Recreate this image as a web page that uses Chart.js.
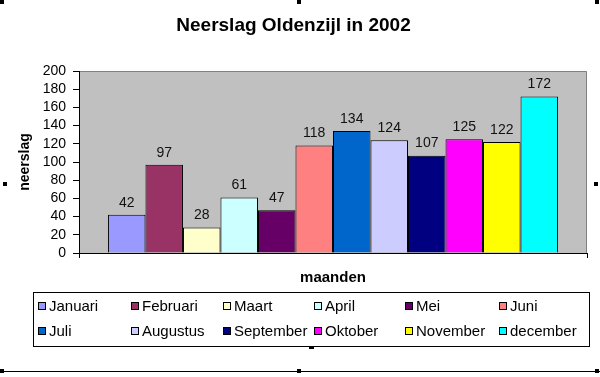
<!DOCTYPE html>
<html>
<head>
<meta charset="utf-8">
<script src="https://cdn.jsdelivr.net/npm/chart.js@4.4.1/dist/chart.umd.min.js"></script>
<style>
  html, body { margin: 0; padding: 0; background: #fff; }
  #wrap { position: relative; width: 600px; height: 377px; }
</style>
</head>
<body>
<div id="wrap"><canvas id="c"></canvas></div>
<script>
const chartTitle = 'Neerslag Oldenzijl in 2002';
const months = ['Januari','Februari','Maart','April','Mei','Juni','Juli','Augustus','September','Oktober','November','december'];
const rainfall = [42, 97, 28, 61, 47, 118, 134, 124, 107, 125, 122, 172];
const monthColors = ['#9999FF','#993366','#FFFFCC','#CCFFFF','#660066','#FF8080','#0066CC','#CCCCFF','#000080','#FF00FF','#FFFF00','#00FFFF'];
const yTicks = [0, 20, 40, 60, 80, 100, 120, 140, 160, 180, 200];
const xTitle = 'maanden';
const yTitle = 'neerslag';

const FONT = 'Arial, "Liberation Sans", sans-serif';

const datasets = months.map((m, i) => ({
  label: m,
  data: [rainfall[i]],
  backgroundColor: monthColors[i],
  borderColor: '#000',
  borderWidth: 1,
  categoryPercentage: 0.886,
  barPercentage: 1.0
}));

const plotBg = {
  id: 'plotBg',
  beforeDraw(chart) {
    const {ctx, chartArea: a} = chart;
    ctx.save();
    ctx.fillStyle = '#C0C0C0';
    ctx.fillRect(a.left, a.top, a.right - a.left, a.bottom - a.top);
    ctx.strokeStyle = '#808080';
    ctx.lineWidth = 1;
    ctx.beginPath();
    ctx.moveTo(a.left, a.top + 0.5);
    ctx.lineTo(a.right - 0.5, a.top + 0.5);
    ctx.lineTo(a.right - 0.5, a.bottom);
    ctx.stroke();
    ctx.restore();
  }
};

const valueLabels = {
  id: 'valueLabels',
  afterDatasetsDraw(chart) {
    const ctx = chart.ctx;
    ctx.save();
    ctx.font = '14px ' + FONT;
    ctx.fillStyle = '#111';
    ctx.textAlign = 'center';
    ctx.textBaseline = 'bottom';
    chart.data.datasets.forEach((ds, i) => {
      const el = chart.getDatasetMeta(i).data[0];
      if (!el) return;
      ctx.fillText(String(ds.data[0]), el.x, el.y - 5);
    });
    ctx.restore();
  }
};

const boxLegend = {
  id: 'boxLegend',
  afterDraw(chart) {
    const ctx = chart.ctx;
    const box = {x: 33, y: 292, w: 556, h: 54};
    ctx.save();
    ctx.fillStyle = '#fff';
    ctx.fillRect(box.x, box.y, box.w, box.h);
    ctx.strokeStyle = '#000';
    ctx.lineWidth = 1;
    ctx.strokeRect(box.x + 0.5, box.y + 0.5, box.w, box.h);
    const colX = [38, 131, 223, 314, 405, 499];
    const rowY = [306, 331];
    ctx.font = '15px ' + FONT;
    ctx.textBaseline = 'middle';
    ctx.textAlign = 'left';
    chart.data.datasets.forEach((ds, i) => {
      const cx = colX[i % 6], cy = rowY[Math.floor(i / 6)];
      ctx.fillStyle = ds.backgroundColor;
      ctx.fillRect(cx, cy - 4, 8, 8);
      ctx.strokeStyle = '#000';
      ctx.strokeRect(cx + 0.5, cy - 3.5, 7, 7);
      ctx.fillStyle = '#000';
      ctx.fillText(ds.label, cx + 11, cy + 1);
    });
    // selection handles / frame marks
    ctx.fillStyle = '#000';
    [[0,0],[297,0],[595,0],[3,182],[594,182],[0,369],[297,369],[595,369]].forEach(p => ctx.fillRect(p[0], p[1], 4, 4));
    ctx.fillRect(309, 347, 5, 2);
    ctx.fillRect(0, 371, 600, 1);
    ctx.restore();
  }
};

new Chart(document.getElementById('c'), {
  type: 'bar',
  data: { labels: [''], datasets },
  plugins: [plotBg, valueLabels, boxLegend],
  options: {
    responsive: true,
    maintainAspectRatio: false,
    animation: false,
    layout: { padding: { left: 0, right: 13, top: 0, bottom: 84 } },
    plugins: {
      legend: { display: false },
      tooltip: { enabled: false },
      title: {
        display: true,
        text: chartTitle,
        color: '#000',
        font: { family: FONT, size: 19, weight: 'bold' },
        padding: { top: 14, bottom: 34.2 }
      }
    },
    scales: {
      x: {
        grid: { display: true, drawOnChartArea: false, drawTicks: true, tickLength: 5, color: '#000', offset: true },
        border: { display: true, color: '#000', width: 1 },
        ticks: { display: false },
        title: { display: true, text: xTitle, color: '#000', font: { family: FONT, size: 15, weight: 'bold' }, padding: { top: 0, bottom: 6 } },
        afterFit(s) { s.height = 40; }
      },
      y: {
        min: 0, max: 200,
        afterBuildTicks(s) { s.ticks = yTicks.map(v => ({ value: v })); },
        grid: { display: true, drawOnChartArea: false, drawTicks: true, tickLength: 6, color: '#000' },
        border: { display: true, color: '#000', width: 1 },
        ticks: { color: '#000', font: { family: FONT, size: 14 }, padding: 7, autoSkip: false },
        title: { display: true, text: yTitle, color: '#000', font: { family: FONT, size: 14, weight: 'bold' }, padding: { top: 17, bottom: 0 } },
        afterFit(s) { s.width = 79; }
      }
    }
  }
});
</script>
</body>
</html>
